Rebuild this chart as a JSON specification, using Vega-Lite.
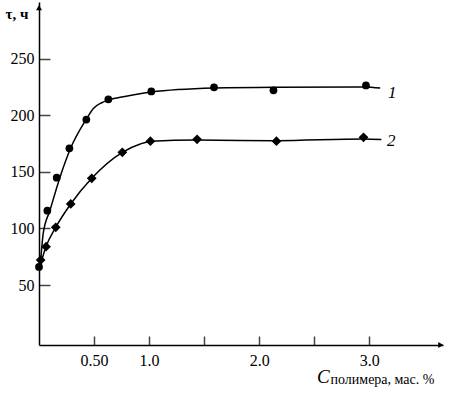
{
  "$schema": "https://vega.github.io/schema/vega-lite/v6.json",
  "width": 404,
  "height": 343,
  "autosize": {"type": "none"},
  "padding": {"left": 39, "top": 2, "right": 12, "bottom": 48},
  "background": "white",
  "title": {"text": "C", "orient": "bottom", "anchor": "start", "frame": "group", "dx": 278, "offset": 0, "dy": -3, "baseline": "alphabetic", "font": "Liberation Serif", "fontStyle": "italic", "fontWeight": "normal", "fontSize": 19, "color": "black"},
  "config": {"view": {"stroke": null}},
  "datasets": {
    "fit": [
      {"series": "1", "c": 0.01, "tau": 65},
      {"series": "1", "c": 0.039, "tau": 96},
      {"series": "1", "c": 0.10, "tau": 116},
      {"series": "1", "c": 0.19, "tau": 145},
      {"series": "1", "c": 0.288, "tau": 171},
      {"series": "1", "c": 0.427, "tau": 196},
      {"series": "1", "c": 0.494, "tau": 206},
      {"series": "1", "c": 0.57, "tau": 211},
      {"series": "1", "c": 0.636, "tau": 213.5},
      {"series": "1", "c": 0.78, "tau": 216.5},
      {"series": "1", "c": 1.02, "tau": 220.5},
      {"series": "1", "c": 1.59, "tau": 224},
      {"series": "1", "c": 2.14, "tau": 224.8},
      {"series": "1", "c": 2.96, "tau": 225},
      {"series": "1", "c": 3.1, "tau": 224},
      {"series": "2", "c": 0.01, "tau": 67},
      {"series": "2", "c": 0.064, "tau": 84},
      {"series": "2", "c": 0.152, "tau": 101},
      {"series": "2", "c": 0.288, "tau": 121.6},
      {"series": "2", "c": 0.479, "tau": 144.3},
      {"series": "2", "c": 0.757, "tau": 167.2},
      {"series": "2", "c": 0.92, "tau": 174.6},
      {"series": "2", "c": 1.02, "tau": 177},
      {"series": "2", "c": 1.44, "tau": 178},
      {"series": "2", "c": 2.15, "tau": 177.5},
      {"series": "2", "c": 2.95, "tau": 179},
      {"series": "2", "c": 3.11, "tau": 178.5}
    ],
    "points": [
      {"series": "1", "c": 0.0, "tau": 66},
      {"series": "1", "c": 0.076, "tau": 115.7},
      {"series": "1", "c": 0.161, "tau": 144.8},
      {"series": "1", "c": 0.276, "tau": 170.8},
      {"series": "1", "c": 0.43, "tau": 196.1},
      {"series": "1", "c": 0.63, "tau": 214},
      {"series": "1", "c": 1.02, "tau": 221},
      {"series": "1", "c": 1.59, "tau": 224.6},
      {"series": "1", "c": 2.13, "tau": 222},
      {"series": "1", "c": 2.97, "tau": 226.3},
      {"series": "2", "c": 0.015, "tau": 72},
      {"series": "2", "c": 0.064, "tau": 83.9},
      {"series": "2", "c": 0.152, "tau": 101},
      {"series": "2", "c": 0.288, "tau": 121.6},
      {"series": "2", "c": 0.479, "tau": 144.3},
      {"series": "2", "c": 0.757, "tau": 167.2},
      {"series": "2", "c": 1.012, "tau": 177},
      {"series": "2", "c": 1.436, "tau": 178.7},
      {"series": "2", "c": 2.157, "tau": 177},
      {"series": "2", "c": 2.948, "tau": 180.5}
    ],
    "labels": [
      {"label": "1", "c": 3.21, "tau": 219.6},
      {"label": "2", "c": 3.2, "tau": 177.2}
    ],
    "arrows": [
      {"dir": "up", "c": 0.0, "tau": 295},
      {"dir": "right", "c": 3.65, "tau": -3}
    ]
  },
  "encoding": {
    "x": {
      "field": "c", "type": "quantitative",
      "scale": {"domain": [0, 3.67], "nice": false, "zero": false},
      "axis": {
        "values": [0.5, 1, 1.5, 2, 2.5, 3],
        "labelExpr": "datum.value == 0.5 ? '0.50' : (datum.value == 1.5 || datum.value == 2.5) ? '' : format(datum.value, '.1f')",
        "title": "полимера, мас. %",
        "titleX": 291, "titleY": 38, "titleAlign": "left", "titleBaseline": "alphabetic",
        "titleFont": "Liberation Serif", "titleFontSize": 14, "titleFontWeight": "normal", "titleColor": "black",
        "ticks": true, "tickSize": -9, "tickColor": "#444444", "tickWidth": 1.5,
        "labelPadding": 16, "labelFont": "Liberation Serif", "labelFontSize": 16, "labelColor": "black",
        "domainColor": "black", "domainWidth": 1.5, "grid": false
      }
    },
    "y": {
      "field": "tau", "type": "quantitative",
      "scale": {"domain": [-3, 300], "nice": false, "zero": false},
      "axis": {
        "values": [50, 100, 150, 200, 250],
        "title": "τ, ч",
        "titleAngle": 0, "titleX": -34, "titleY": 16, "titleAlign": "left", "titleBaseline": "alphabetic",
        "titleFont": "Liberation Serif", "titleFontSize": 15, "titleFontWeight": "bold", "titleColor": "black",
        "ticks": true, "tickSize": -11, "tickColor": "#444444", "tickWidth": 1.5,
        "labelPadding": 16, "labelFont": "Liberation Serif", "labelFontSize": 16, "labelColor": "black",
        "domainColor": "black", "domainWidth": 1.5, "grid": false
      }
    }
  },
  "layer": [
    {
      "data": {"name": "fit"},
      "mark": {"type": "line", "interpolate": "monotone", "color": "black", "strokeWidth": 1.5, "clip": false},
      "encoding": {"detail": {"field": "series"}}
    },
    {
      "data": {"name": "points"},
      "transform": [{"filter": "datum.series == '1'"}],
      "mark": {"type": "point", "shape": "circle", "filled": true, "opacity": 1, "color": "black", "size": 60, "clip": false},
      "encoding": {}
    },
    {
      "data": {"name": "points"},
      "transform": [{"filter": "datum.series == '2'"}],
      "mark": {"type": "point", "shape": "diamond", "filled": true, "opacity": 1, "color": "black", "size": 95, "clip": false},
      "encoding": {}
    },
    {
      "data": {"name": "labels"},
      "mark": {"type": "text", "font": "Liberation Serif", "fontStyle": "italic", "fontSize": 17, "color": "black", "align": "center", "baseline": "middle", "clip": false},
      "encoding": {"text": {"field": "label"}}
    },
    {
      "data": {"name": "arrows"},
      "mark": {"type": "point", "filled": true, "opacity": 1, "color": "black", "size": 35, "clip": false},
      "encoding": {
        "shape": {"field": "dir", "type": "nominal", "scale": {"domain": ["up", "right"], "range": ["triangle-up", "triangle-right"]}, "legend": null}
      }
    }
  ]
}
